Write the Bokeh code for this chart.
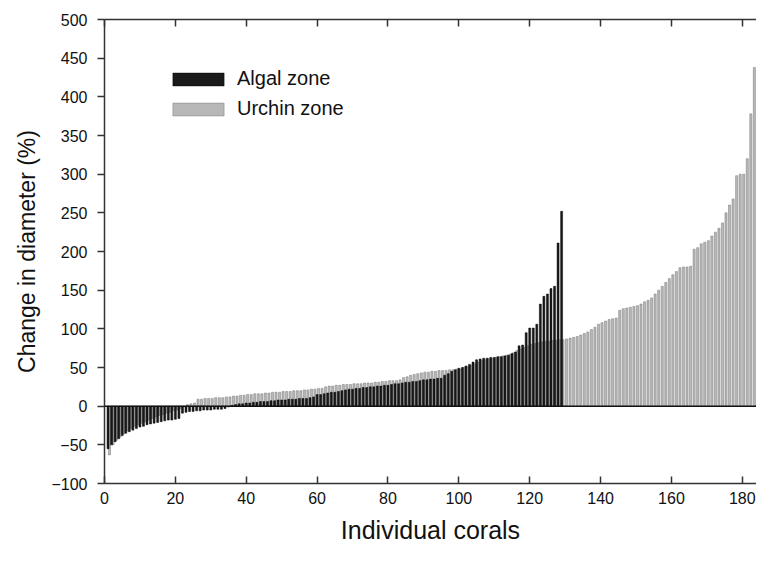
import numpy as np
from bokeh.plotting import figure
from bokeh.models import (ColumnDataSource, Range1d, FixedTicker, LinearAxis, Span,
                          Legend, LegendItem, CustomJSTickFormatter)
from bokeh.transform import dodge
from bokeh.embed import file_html
from bokeh.resources import INLINE

# Change in diameter (%) of individual corals, sorted ascending
algal_zone = [
    -55, -50, -46, -42, -38, -35, -33, -31, -29, -27,
    -26, -24, -23, -22, -21, -20, -19, -18, -18, -17,
    -16, -9, -8, -7, -7, -6, -6, -5, -5, -5,
    -4, -4, -4, -3, -1, 1, 2, 3, 3, 4,
    4, 5, 5, 6, 6, 6, 7, 7, 8, 8,
    8, 9, 9, 9, 10, 10, 10, 11, 12, 15,
    15, 16, 17, 18, 18, 19, 20, 21, 22, 22,
    23, 23, 24, 24, 25, 25, 26, 26, 27, 27,
    28, 29, 29, 30, 31, 31, 32, 32, 33, 34,
    34, 35, 35, 36, 36, 40, 42, 45, 47, 49,
    50, 52, 54, 57, 60, 61, 62, 62, 63, 63,
    64, 64, 65, 66, 68, 70, 78, 79, 95, 101,
    101, 106, 132, 142, 145, 152, 155, 211, 252,
]

urchin_zone = [
    -63, -50, -44, -40, -36, -32, -29, -26, -24, -22,
    -20, -18, -16, -14, -12, -11, -9, -8, -6, -5,
    -3, -1, 2, 3, 4, 9, 9, 10, 10, 10,
    11, 11, 11, 12, 12, 13, 13, 14, 14, 15,
    15, 16, 16, 16, 17, 17, 18, 18, 18, 19,
    19, 19, 20, 20, 20, 21, 21, 22, 22, 23,
    23, 25, 26, 26, 27, 27, 28, 28, 28, 29,
    29, 29, 30, 30, 30, 31, 31, 32, 32, 33,
    33, 33, 34, 37, 38, 40, 41, 42, 43, 44,
    44, 45, 45, 46, 46, 46, 47, 47, 48, 48,
    50, 51, 53, 55, 57, 59, 60, 61, 62, 63,
    64, 65, 66, 67, 69, 72, 74, 76, 78, 80,
    81, 82, 83, 84, 84, 85, 85, 86, 86, 87,
    88, 89, 90, 92, 94, 96, 99, 102, 106, 108,
    110, 112, 113, 114, 124, 126, 127, 128, 129, 130,
    132, 135, 137, 140, 145, 150, 155, 160, 165, 170,
    174, 179, 180, 180, 181, 203, 205, 210, 212, 214,
    220, 225, 230, 237, 250, 260, 268, 298, 300, 300,
    320, 378, 438,
]

x_ticks = [0, 20, 40, 60, 80, 100, 120, 140, 160, 180]
y_ticks = [-100, -50, 0, 50, 100, 150, 200, 250, 300, 350, 400, 450, 500]

x_title = "Individual corals"
y_title = "Change in diameter (%)"

FONT = "Liberation Sans"

algal_src = ColumnDataSource(dict(idx=np.arange(1, len(algal_zone) + 1), val=algal_zone))
urchin_src = ColumnDataSource(dict(idx=np.arange(1, len(urchin_zone) + 1), val=urchin_zone))

p = figure(width=756, height=546, output_backend="svg", toolbar_location=None,
           x_range=Range1d(0, 184), y_range=Range1d(-100, 500),
           min_border_left=104, min_border_right=0, min_border_top=19, min_border_bottom=62)
p.outline_line_color = None
p.xgrid.visible = False
p.ygrid.visible = False

r_urchin = p.vbar(x=dodge("idx", 0.4, range=p.x_range), top="val", bottom=0, width=0.6,
                  source=urchin_src, fill_color="#b8b8b8", line_color="#7a7a7a",
                  line_width=0.5)
r_algal = p.vbar(x="idx", top="val", bottom=0, width=0.55, source=algal_src,
                 fill_color="#1a1a1a", line_color="#000000", line_width=0.5)

p.add_layout(Span(location=0, dimension="width", line_color="#111111", line_width=1.5))

# bottom axis
xa = p.xaxis[0]
xa.ticker = FixedTicker(ticks=x_ticks)
xa.minor_tick_line_color = None
xa.major_tick_in = 7
xa.major_tick_out = 0
xa.major_label_standoff = 8
xa.axis_line_width = 1.5
xa.axis_line_color = "#333333"
xa.major_tick_line_color = "#333333"
xa.major_tick_line_width = 1.5
xa.major_label_text_font = FONT
xa.major_label_text_font_size = "16px"
xa.major_label_text_color = "#111111"
xa.axis_label = x_title
xa.axis_label_text_font = FONT
xa.axis_label_text_font_size = "25px"
xa.axis_label_text_font_style = "normal"
xa.axis_label_text_color = "#111111"
xa.axis_label_standoff = 9

# left axis
ya = p.yaxis[0]
ya.ticker = FixedTicker(ticks=y_ticks)
ya.minor_tick_line_color = None
ya.major_tick_in = 0
ya.major_tick_out = 7
ya.major_label_standoff = 10
ya.axis_line_width = 1.5
ya.axis_line_color = "#333333"
ya.major_tick_line_color = "#333333"
ya.major_tick_line_width = 1.5
ya.major_label_text_font = FONT
ya.major_label_text_font_size = "16px"
ya.major_label_text_color = "#111111"
ya.axis_label = y_title
ya.axis_label_text_font = FONT
ya.axis_label_text_font_size = "23px"
ya.axis_label_text_font_style = "normal"
ya.axis_label_text_color = "#111111"
ya.axis_label_standoff = 8

# top axis: ticks only
ta = LinearAxis(ticker=FixedTicker(ticks=x_ticks),
                formatter=CustomJSTickFormatter(code="return ''"))
ta.minor_tick_line_color = None
ta.major_tick_in = 7
ta.major_tick_out = 0
ta.major_label_standoff = 0
ta.axis_line_width = 1.5
ta.axis_line_color = "#333333"
ta.major_tick_line_color = "#333333"
ta.major_tick_line_width = 1.5
p.add_layout(ta, "above")

legend = Legend(items=[LegendItem(label="Algal zone", renderers=[r_algal]),
                       LegendItem(label="Urchin zone", renderers=[r_urchin])],
                location=(62, 363))
legend.padding = 0
legend.margin = 0
legend.spacing = 7
legend.glyph_width = 64
legend.glyph_height = 16
legend.label_standoff = 7
legend.label_text_font = FONT
legend.label_text_font_size = "20px"
legend.label_text_color = "#111111"
legend.border_line_color = None
legend.background_fill_alpha = 0
p.add_layout(legend)

open("out.html", "w").write(file_html(p, INLINE))
